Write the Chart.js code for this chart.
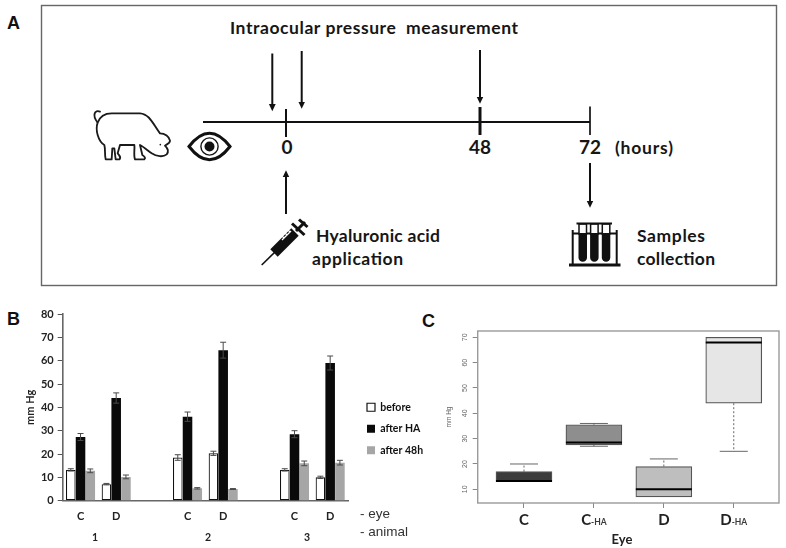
<!DOCTYPE html>
<html>
<head>
<meta charset="utf-8">
<script src="https://cdn.jsdelivr.net/npm/chart.js@4/dist/chart.umd.min.js"></script>
<style>
html,body{margin:0;padding:0;background:#fff;width:786px;height:548px;overflow:hidden}
#stage{position:relative;width:786px;height:548px}
svg,canvas,.t{position:absolute}
svg{left:0;top:0}
#chartB{left:0;top:300px}
#chartC{left:420px;top:300px}
.t{white-space:nowrap;line-height:1;color:#222}
.p{font:bold 18px "Liberation Sans",Arial,sans-serif;color:#111}
.n{font:bold 10.5px Lato,sans-serif;transform:translateX(-50%)}
.e{font:13.5px "Liberation Sans",Arial,sans-serif;color:#333}
</style>
</head>
<body>
<div id="stage">
<svg width="786" height="300" viewBox="0 0 786 300">
  <defs>
    <marker id="ah" markerWidth="4" markerHeight="4" refX="0.2" refY="2" orient="auto" markerUnits="strokeWidth">
      <path d="M0 0.3 L3.6 2 L0 3.7Z" fill="#111"/>
    </marker>
  </defs>
  <rect x="41.5" y="5.5" width="735" height="280" fill="#fff" stroke="#666" stroke-width="1.4"/>
  <g font-family="Lato,sans-serif" font-weight="700" fill="#161616">
    <text x="230" y="34" font-size="17.5" textLength="288" lengthAdjust="spacing" xml:space="preserve">Intraocular pressure  measurement</text>
    <text x="287" y="154" font-size="19" text-anchor="middle">0</text>
    <text x="480" y="154" font-size="19" text-anchor="middle">48</text>
    <text x="590" y="154" font-size="19" text-anchor="middle">72</text>
    <text x="615" y="154" font-size="17.5" textLength="58" lengthAdjust="spacing">(hours)</text>
    <text x="316" y="241.5" font-size="17.5" textLength="124" lengthAdjust="spacing">Hyaluronic acid</text>
    <text x="312" y="265" font-size="17.5" textLength="91" lengthAdjust="spacing">application</text>
    <text x="637" y="241.5" font-size="17.5" textLength="68" lengthAdjust="spacing">Samples</text>
    <text x="637" y="265" font-size="17.5" textLength="78" lengthAdjust="spacing">collection</text>
  </g>
  <g stroke="#111" fill="none">
    <line x1="203" y1="122" x2="590" y2="122" stroke-width="2.2"/>
    <line x1="286" y1="109" x2="286" y2="137" stroke-width="2"/>
    <line x1="480" y1="107" x2="480" y2="135" stroke-width="3"/>
    <line x1="590" y1="106.5" x2="590" y2="135" stroke-width="1.7"/>
    <g stroke-width="2" marker-end="url(#ah)">
      <line x1="272.3" y1="53.5" x2="272.3" y2="104.5"/>
      <line x1="301.7" y1="51" x2="301.7" y2="102"/>
      <line x1="480" y1="50" x2="480" y2="97"/>
      <line x1="286" y1="214" x2="286" y2="177"/>
      <line x1="590" y1="163" x2="590" y2="201"/>
    </g>
  </g>
  <!-- pig -->
  <g transform="translate(85,100) scale(0.3333)" fill="#fff" stroke="#1a1a1a" stroke-width="5.5" stroke-linejoin="round" stroke-linecap="round">
    <path d="M45 35 C30 28 20 45 38 68" fill="none"/>
    <path d="M38 68 C45 48 60 40 80 40 L165 40 C195 42 205 75 225 100 C240 100 253 110 255 122 C255 130 245 133 240 137 C248 145 252 155 245 163 C235 172 215 170 200 160 C190 153 175 140 165 135 L172 165 C180 170 182 175 178 178 L150 178 C145 165 150 145 148 135 L105 135 L98 160 C105 168 108 172 104 178 L92 178 L88 145 L82 145 L80 178 L62 178 C58 160 62 150 58 135 C40 125 30 90 38 68 Z"/>
    <circle cx="226" cy="134" r="2.5" fill="#1a1a1a" stroke="none"/>
  </g>
  <!-- eye -->
  <path d="M189 146.5 Q209.5 120 230 146.5 Q209.5 173 189 146.5Z" fill="#fff" stroke="#111" stroke-width="3"/>
  <circle cx="209.5" cy="146.5" r="8.6" fill="#fff" stroke="#111" stroke-width="1.4"/>
  <circle cx="209.5" cy="146.5" r="5" fill="#111"/>
  <!-- syringe -->
  <g stroke="#111" fill="none">
    <line x1="261.7" y1="265" x2="276" y2="251" stroke-width="1.6"/>
    <line x1="274" y1="253" x2="295" y2="232" stroke-width="10.5"/>
    <line x1="292" y1="223.5" x2="304.5" y2="235" stroke-width="3"/>
    <line x1="296" y1="231" x2="305" y2="222" stroke-width="3"/>
    <line x1="299" y1="219.5" x2="307.5" y2="227" stroke-width="3"/>
    <path d="M282 240 L291 231 M284 238 L282 236 M287 235 L285 233 M290 232 L288 230" stroke="#fff" stroke-width="1.3"/>
  </g>
  <!-- sample tubes -->
  <g stroke="#111" fill="none">
    <line x1="569" y1="265" x2="620.5" y2="265" stroke-width="3"/>
    <line x1="572.7" y1="230" x2="572.7" y2="265" stroke-width="2"/>
    <line x1="616.7" y1="230" x2="616.7" y2="265" stroke-width="2"/>
    <line x1="572" y1="233.5" x2="617" y2="233.5" stroke-width="2"/>
    <g fill="#fff" stroke-width="1.5">
      <rect x="579" y="224" width="7.5" height="10"/><rect x="590.6" y="224" width="7.5" height="10"/><rect x="602.3" y="224" width="7.5" height="10"/>
    </g>
    <g fill="#111" stroke="none">
      <path d="M578.5 233 h8.5 v24.5 a4.25 4.25 0 0 1 -8.5 0z"/>
      <path d="M590.1 233 h8.5 v24.5 a4.25 4.25 0 0 1 -8.5 0z"/>
      <path d="M601.8 233 h8.5 v24.5 a4.25 4.25 0 0 1 -8.5 0z"/>
      <rect x="576.5" y="222.5" width="35.5" height="2"/>
    </g>
  </g>
</svg>
<div class="t p" style="left:7px;top:13px">A</div>
<div class="t p" style="left:7px;top:309px">B</div>
<div class="t p" style="left:422px;top:311px">C</div>
<canvas id="chartB" width="430" height="248"></canvas>
<canvas id="chartC" width="366" height="248"></canvas>
<div class="t e" style="left:360px;top:506px">- eye</div>
<div class="t e" style="left:360px;top:524px">- animal</div>
<div class="t n" id="an0" style="left:95px;top:531px"></div>
<div class="t n" id="an1" style="left:208px;top:531px"></div>
<div class="t n" id="an2" style="left:307px;top:531px"></div>
</div>
<script>
// Panel B data
const eyeLabels = ['C','D','','C','D','','C','D'];
const animalLabels = ['1','2','3'];
const barTicksMax = 80;
const legendNames = ['before','after HA','after 48h'];
const before     = [13.2, 7.1, null, 18.5, 20.3, null, 13.2, 10.0];
const afterHA    = [27.3, 44.0, null, 36.0, 64.5, null, 28.5, 59.0];
const after48h   = [12.8, 10.2, null, 5.3, 5.0, null, 16.0, 16.3];
const errBefore  = [0.5, 0.3, null, 1.2, 0.9, null, 0.5, 0.5];
const errAfterHA = [1.5, 2.2, null, 2.0, 3.4, null, 1.5, 3.0];
const errAfter48 = [0.8, 0.8, null, 0.3, 0.2, null, 1.0, 1.0];

// Panel C data
const boxNames    = ['C','C','D','D'];
const boxSuffix   = ['','-HA','','-HA'];
const boxPositions= [1,2,3,4];
const boxLow      = [13, 27, 7, 25];
const boxQ1       = [13, 27.5, 7, 44];
const boxMedian   = [13.3, 28.5, 10, 68];
const boxQ3       = [17, 35.5, 19, 70];
const boxHigh     = [20, 36, 22, 70];
const boxFill     = ['#3c3c3c','#8e8e8e','#bebebe','#e6e6e6'];
const boxTicks    = [10,20,30,40,50,60,70];

animalLabels.forEach((a,i)=>{document.getElementById('an'+i).textContent=a;});
const LATO = 'Lato, sans-serif', ARIAL = '"Liberation Sans", Arial, sans-serif';

const errorBars = {
  id:'errorBars',
  afterDatasetsDraw(chart){
    const {ctx, scales:{y}} = chart;
    const errs = [errBefore, errAfterHA, errAfter48];
    ctx.save();
    ctx.strokeStyle='#4a4a4a'; ctx.lineWidth=1;
    chart.data.datasets.forEach((ds,d)=>{
      chart.getDatasetMeta(d).data.forEach((bar,i)=>{
        if(ds.data[i]==null) return;
        const x=bar.x, t=y.getPixelForValue(ds.data[i]+errs[d][i]), b=y.getPixelForValue(ds.data[i]-errs[d][i]);
        ctx.beginPath();
        ctx.moveTo(x,t);ctx.lineTo(x,b);
        ctx.moveTo(x-3,t);ctx.lineTo(x+3,t);
        ctx.moveTo(x-3,b);ctx.lineTo(x+3,b);
        ctx.stroke();
      });
    });
    ctx.restore();
  }
};
const placeLegend = {
  id:'placeLegend',
  afterLayout(chart){
    const l=chart.legend, pad=l.options.labels.padding;
    l.left=367-pad; l.right=l.left+90; l.top=102-pad; l.bottom=l.top+130;
  }
};

new Chart(document.getElementById('chartB'),{
  type:'bar',
  data:{labels:eyeLabels,datasets:[
    {label:legendNames[0],data:before,backgroundColor:'#ffffff',borderColor:'#111',borderWidth:1.2},
    {label:legendNames[1],data:afterHA,backgroundColor:'#0a0a0a',borderColor:'#0a0a0a',borderWidth:0},
    {label:legendNames[2],data:after48h,backgroundColor:'#a6a6a6',borderColor:'#a6a6a6',borderWidth:0}
  ]},
  plugins:[errorBars,placeLegend],
  options:{
    responsive:false,animation:false,
    layout:{padding:{top:14,right:82,left:0,bottom:0}},
    datasets:{bar:{categoryPercentage:0.82,barPercentage:0.98,borderSkipped:false}},
    plugins:{tooltip:{enabled:false},
      legend:{position:'chartArea',align:'start',
        labels:{boxWidth:8,boxHeight:8,padding:11,color:'#111',font:{family:LATO,weight:'bold',size:10.5}}}},
    scales:{
      x:{
        grid:{display:false,drawTicks:false},
        border:{color:'#666',width:1.6},
        ticks:{padding:9,color:'#222',autoSkip:false,maxRotation:0,font:{family:LATO,weight:'bold',size:11}},
        afterFit(s){s.height=47.3;}
      },
      y:{
        min:0,max:barTicksMax,
        grid:{drawOnChartArea:false,color:'#555',tickLength:5},
        border:{color:'#666',width:1.6},
        ticks:{stepSize:10,padding:4,color:'#222',font:{family:LATO,weight:'bold',size:11}},
        title:{display:true,text:'mm Hg',color:'#222',font:{family:LATO,weight:'bold',size:11},padding:{top:24,bottom:0}},
        afterFit(s){s.width=62.7;}
      }
    }
  }
});

const boxExtras = {
  id:'boxExtras',
  afterDatasetsDraw(chart){
    const {ctx,scales:{x,y},chartArea:a}=chart;
    ctx.save();
    boxPositions.forEach((p,i)=>{
      const cx=x.getPixelForValue(p);
      ctx.strokeStyle='#555';ctx.lineWidth=0.9;
      ctx.setLineDash([2,2]);
      ctx.beginPath();
      ctx.moveTo(cx,y.getPixelForValue(boxQ3[i]));ctx.lineTo(cx,y.getPixelForValue(boxHigh[i]));
      ctx.moveTo(cx,y.getPixelForValue(boxQ1[i]));ctx.lineTo(cx,y.getPixelForValue(boxLow[i]));
      ctx.stroke();
      ctx.setLineDash([]);
      ctx.beginPath();
      if(boxHigh[i]>boxQ3[i]){ctx.moveTo(cx-14,y.getPixelForValue(boxHigh[i]));ctx.lineTo(cx+14,y.getPixelForValue(boxHigh[i]));}
      if(boxLow[i]<boxQ1[i]){ctx.moveTo(cx-14,y.getPixelForValue(boxLow[i]));ctx.lineTo(cx+14,y.getPixelForValue(boxLow[i]));}
      ctx.stroke();
      ctx.strokeStyle='#000';ctx.lineWidth=2;
      ctx.beginPath();
      ctx.moveTo(cx-28,y.getPixelForValue(boxMedian[i]));ctx.lineTo(cx+28,y.getPixelForValue(boxMedian[i]));
      ctx.stroke();
      // category label with a smaller suffix
      ctx.textBaseline='alphabetic';ctx.textAlign='left';
      const big='bold 15px '+LATO, small='bold 8.5px '+LATO;
      ctx.font=big;const w1=ctx.measureText(boxNames[i]).width;
      ctx.font=small;const w2=boxSuffix[i]?ctx.measureText(boxSuffix[i]).width:0;
      const lx=cx-(w1+w2)/2, ly=225;
      ctx.fillStyle='#222';ctx.font=big;ctx.fillText(boxNames[i],lx,ly);
      if(w2){ctx.fillStyle='#3a3a3a';ctx.font=small;ctx.fillText(boxSuffix[i],lx+w1,ly);}
    });
    ctx.strokeStyle='#9a9a9a';ctx.lineWidth=1.4;
    ctx.strokeRect(a.left,a.top,a.right-a.left,a.bottom-a.top);
    ctx.restore();
  }
};

new Chart(document.getElementById('chartC'),{
  type:'bar',
  data:{datasets:[{
    label:'mm Hg',
    data:boxPositions.map((p,i)=>({x:p,y:[boxQ1[i],boxQ3[i]]})),
    backgroundColor:boxFill,borderColor:'#555',borderWidth:1.2,borderSkipped:false,barThickness:56
  }]},
  plugins:[boxExtras],
  options:{
    responsive:false,animation:false,
    layout:{padding:{top:31,right:7,left:0,bottom:0}},
    plugins:{legend:{display:false},tooltip:{enabled:false}},
    scales:{
      x:{
        type:'linear',min:0.338,max:4.647,offset:false,
        afterBuildTicks(s){s.ticks=boxPositions.map(v=>({value:v}));},
        grid:{offset:false,drawOnChartArea:false,color:'#888',tickLength:5},
        border:{display:false},
        ticks:{display:false},
        title:{display:true,text:'Eye    ',color:'#222',font:{family:LATO,weight:'bold',size:13},padding:{top:23,bottom:0}},
        afterFit(s){s.height=45;}
      },
      y:{
        min:4.6,max:72.5,
        afterBuildTicks(s){s.ticks=boxTicks.map(v=>({value:v}));},
        grid:{drawOnChartArea:false,color:'#888',tickLength:5},
        border:{display:false},
        ticks:{minRotation:90,maxRotation:90,crossAlign:'center',padding:4,color:'#666',font:{family:ARIAL,size:7}},
        title:{display:true,text:'mm Hg',color:'#666',font:{family:ARIAL,size:6.5},padding:{top:25,bottom:0}},
        afterFit(s){s.width=57.7;}
      }
    }
  }
});
</script>
</body>
</html>
